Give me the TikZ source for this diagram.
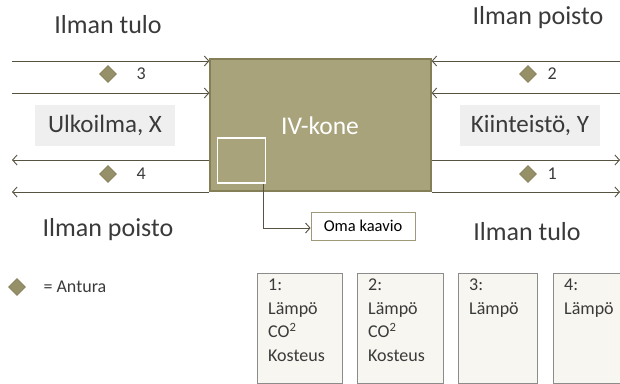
\documentclass[tikz,border=0pt]{standalone}
\usepackage{fontspec}
\setmainfont{Carlito}
\usetikzlibrary{arrows.meta,shapes.geometric}
\definecolor{olive}{HTML}{A8A37B}
\definecolor{olivedk}{HTML}{857F58}
\definecolor{dia}{HTML}{959068}
\definecolor{linec}{HTML}{575342}
\definecolor{txt}{HTML}{3A3A3A}
\definecolor{lbl}{HTML}{EFEFEF}
\definecolor{note}{HTML}{F7F6F0}
\tikzset{
  flow/.style={draw=linec,line width=0.9pt,-{Straight Barb[length=4.5pt,width=10pt]}},
  sensor/.style={diamond,fill=dia,draw=olivedk,line width=0.6pt,minimum width=17pt,minimum height=17pt,inner sep=0pt},
  title/.style={text=txt,font=\fontsize{26}{30}\selectfont,anchor=center},
  num/.style={text=txt,font=\fontsize{18}{21}\selectfont},
  place/.style={fill=lbl,text=txt,font=\fontsize{25}{29}\selectfont,minimum width=140pt,minimum height=41pt,inner sep=0pt},
  notebox/.style={draw=gray!90,fill=note,line width=0.8pt,anchor=north west,inner sep=0pt},
  notetxt/.style={text=txt,font=\fontsize{18}{23.5}\selectfont,anchor=north west,align=left,inner sep=0pt}
}
\begin{document}
\begin{tikzpicture}[x=1pt,y=-1pt]
\useasboundingbox (0,0) rectangle (620,383);
% main machine
\node[draw=olivedk,fill=olive,line width=1.2pt,minimum width=221pt,minimum height=132pt,inner sep=0pt] (kone) at (320.5,125) {};
\node[text=white,font=\fontsize{25.5}{30}\selectfont] (konet) at (320,126) {IV-kone};
\node[draw=white,line width=1.4pt,minimum width=48pt,minimum height=45pt,inner sep=0pt] (sq) at (241.5,160.5) {};
% titles
\node[title] (t1) at (108,25) {Ilman tulo};
\node[title] (t2) at (538,18) {Ilman poisto};
\node[title] (t3) at (108,230) {Ilman poisto};
\node[title] (t4) at (527,232) {Ilman tulo};
% place labels
\node[place] (ulko) at (105,125) {Ulkoilma, X};
\node[place] (kiin) at (530,125) {Kiinteistö, Y};
% left flows
\coordinate (la) at (12,61);
\coordinate (lb) at (12,93);
\coordinate (lc) at (12,160);
\coordinate (ld) at (12,192);
\draw[flow] (la) -- (la -| kone.west);
\draw[flow] (lb) -- (lb -| kone.west);
\draw[flow] (lc -| kone.west) -- (lc);
\draw[flow] (ld -| kone.west) -- (ld);
% right flows
\coordinate (ra) at (620,61);
\coordinate (rb) at (620,93);
\coordinate (rc) at (620,160);
\coordinate (rd) at (620,192);
\draw[flow] (ra) -- (ra -| kone.east);
\draw[flow] (rb) -- (rb -| kone.east);
\draw[flow] (rc -| kone.east) -- (rc);
\draw[flow] (rd -| kone.east) -- (rd);
% sensors
\node[sensor] (s3) at (108,74) {};
\node[num,anchor=west] (n3) at (133,74) {3};
\node[sensor] (s4) at (108,174) {};
\node[num,anchor=west] (n4) at (133,174) {4};
\node[sensor] (s2) at (528,74) {};
\node[num,anchor=west] (n2) at (544,74) {2};
\node[sensor] (s1) at (528,174) {};
\node[num,anchor=west] (n1) at (544,174) {1};
% Oma kaavio
\node[draw=olivedk!80,fill=white,line width=0.8pt,minimum width=104pt,minimum height=28pt,inner sep=0pt,font=\fontsize{16.5}{19}\selectfont,text=black] (oma) at (363,226) {Oma kaavio};
\coordinate (bend) at (263,228);
\draw[flow] (sq.south -| bend) -- (bend) -- (oma.west |- bend);
% legend
\node[sensor] (leg) at (17,287) {};
\node[num,anchor=west] (legt) at (40,287) {= Antura};
% note boxes
\node[notebox,minimum width=85pt,minimum height=110pt] (b1) at (257,273) {};
\node[notetxt] (b1t) at (268,279) {1:\\Lämpö\\CO\textsuperscript{2}\\Kosteus};
\node[notebox,minimum width=86pt,minimum height=110pt] (b2) at (357,273) {};
\node[notetxt] (b2t) at (368,279) {2:\\Lämpö\\CO\textsuperscript{2}\\Kosteus};
\node[notebox,minimum width=79pt,minimum height=110pt] (b3) at (458,273) {};
\node[notetxt] (b3t) at (469,279) {3:\\Lämpö};
\node[notebox,minimum width=80pt,minimum height=110pt] (b4) at (553,273) {};
\node[notetxt] (b4t) at (564,279) {4:\\Lämpö};
\end{tikzpicture}
\end{document}
